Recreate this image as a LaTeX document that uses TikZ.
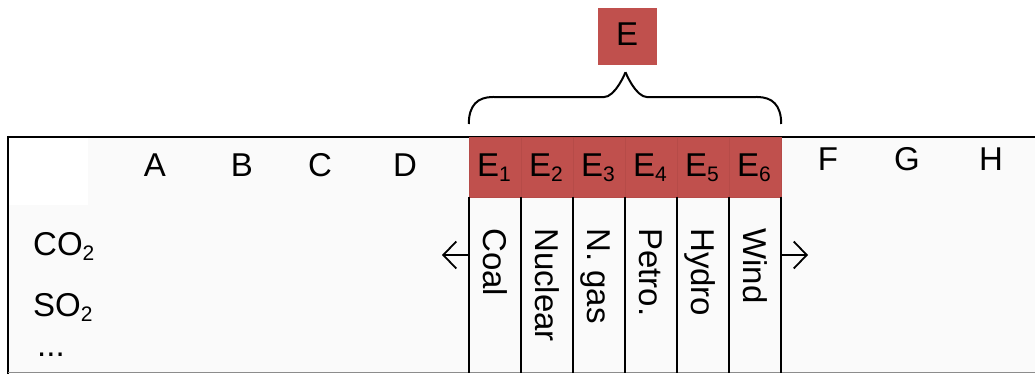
\documentclass[tikz,border=0pt]{standalone}
\usepackage{fontspec}
\setmainfont{Liberation Sans}
\usetikzlibrary{arrows.meta,calc}
\definecolor{ered}{HTML}{C0504D}
\definecolor{eredline}{HTML}{B64B48}
\newcommand\sbs[1]{\raisebox{-5pt}{\fontsize{21}{21}\selectfont #1}}
\begin{document}
\begin{tikzpicture}[x=1pt,y=-1pt,
  lbl/.style={inner sep=0pt,anchor=base,font=\fontsize{33}{33}\selectfont},
  ecell/.style={fill=ered,draw=eredline,line width=0.4pt,minimum width=52pt,minimum height=60pt,inner sep=0pt},
  colcell/.style={minimum width=52pt,minimum height=176pt,inner sep=0pt},
  vtext/.style={inner sep=0pt,anchor=base west,rotate=-90,font=\fontsize{33}{33}\selectfont},
  frame/.style={line width=2pt,black},
  arr/.style={line width=1.8pt,-{Straight Barb[length=13pt,width=27pt,line width=1.8pt]}},
  brace/.style={line width=2pt,black},
  topbox/.style={fill=ered,minimum width=59pt,minimum height=57pt,inner sep=0pt}]
\useasboundingbox (0,0) rectangle (1035,374);
% faint background of table
\fill[black!2] (9,138) rectangle (1035,372);
\fill[white] (9,138) rectangle (88,205);
% table frame
\draw[frame] (8,137) -- (1035,137);
\draw[frame,line width=2.6pt] (8,136) -- (8,374);
\draw[black!45,line width=1.2pt] (8,372.5) -- (1035,372.5);
% column headers
\node[lbl] (A) at (155,177) {A};
\node[lbl] (B) at (242,177) {B};
\node[lbl] (C) at (320,177) {C};
\node[lbl] (D) at (405,177) {D};
\node[lbl] (F) at (828,171) {F};
\node[lbl] (G) at (907,171) {G};
\node[lbl] (H) at (991,171) {H};
% row labels
\node[lbl,anchor=base west] (co2) at (33,255) {CO\sbs{2}};
\node[lbl,anchor=base west] (so2) at (33,316) {SO\sbs{2}};
\node[lbl,anchor=base west] (dots) at (37,356) {...};
% E cells and energy columns
\foreach \i/\x/\t in {1/495/Coal,2/547/Nuclear,3/599/N. gas,4/651/Petro.,5/703/Hydro,6/755/Wind}{
  \node[ecell] (e\i) at (\x,167) {};
  \node[lbl] (e\i t) at (\x-1,177) {E\sbs{\i}};
  \node[colcell] (col\i) at (\x,285) {};
  \node[vtext] (v\i) at (\x-12,228) {\t};
}
\foreach \i in {1,...,6}{
  \draw[frame] (col\i.north west) -- (col\i.south west);
}
\draw[frame] (col6.north east) -- (col6.south east);
% arrows
\coordinate (la) at (442,255);
\coordinate (ra) at (808,255);
\draw[arr] (col1.west |- la) -- (la);
\draw[arr] (col6.east |- ra) -- (ra);
% aggregate E
\node[topbox] (E) at (627.5,36.5) {};
\node[lbl] (Et) at (627,46) {E};
\coordinate (tip) at ($(E.south)+(-2,7)$);
\coordinate (bl) at (e1.north west |- 0,124);
\coordinate (br) at (e6.north east |- 0,124);
\draw[brace] (bl) .. controls ($(bl)+(0,-19)$) and ($(bl)+(9,-27)$) .. ($(bl)+(24,-27)$)
  -- ($(tip)+(-22,25)$) .. controls ($(tip)+(-10,25)$) and (tip) .. (tip);
\draw[brace] (br) .. controls ($(br)+(0,-19)$) and ($(br)+(-9,-27)$) .. ($(br)+(-24,-27)$)
  -- ($(tip)+(22,25)$) .. controls ($(tip)+(10,25)$) and (tip) .. (tip);
\end{tikzpicture}
\end{document}
